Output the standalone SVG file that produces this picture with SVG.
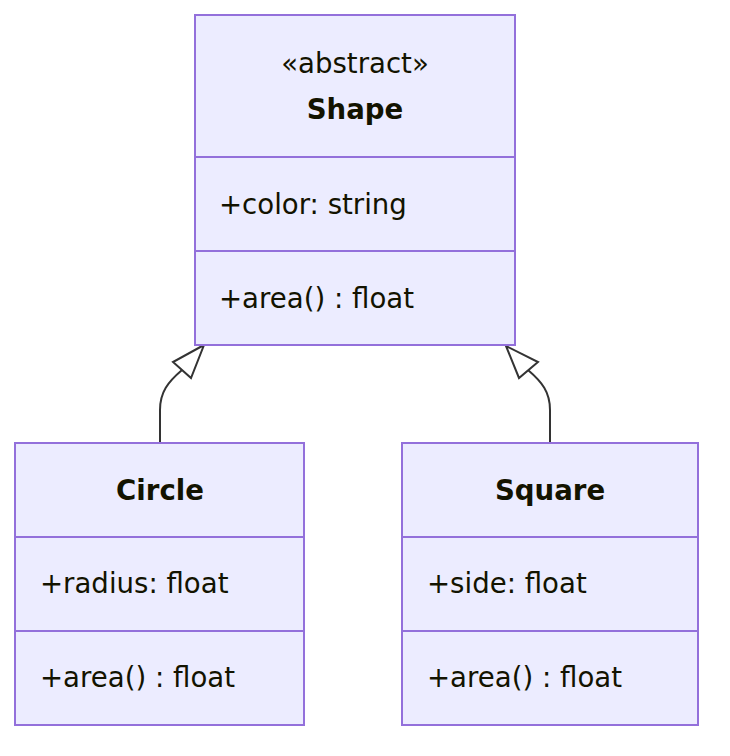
<svg xmlns="http://www.w3.org/2000/svg" width="730" height="756" viewBox="0 0 730 756">
<style>
.box{fill:#ECECFF;stroke:#9370DB;stroke-width:2}
.div{stroke:#9370DB;stroke-width:2}
text{font-family:"DejaVu Sans","Liberation Sans",sans-serif;font-size:27.6px;fill:#131300}
.t{font-weight:bold;text-anchor:middle}
.s{text-anchor:middle}
.edge{fill:none;stroke:#333333;stroke-width:2}
.head{fill:#ffffff;stroke:#333333;stroke-width:2;stroke-linejoin:miter}
</style>
<rect width="730" height="756" fill="#ffffff"/>
<g id="connectors">
<path class="edge" d="M160,443 L160,410 C160,392 168,382 182,370"/>
<polygon class="head" points="204,345 173,362 191,378"/>
<path class="edge" d="M550,443 L550,410 C550,392 542,382 528,370"/>
<polygon class="head" points="506,346 538,362 519,378"/>
</g>
<g id="Shape">
<rect class="box" x="195" y="15" width="320" height="330"/>
<line class="div" x1="195" y1="157" x2="515" y2="157"/>
<line class="div" x1="195" y1="251" x2="515" y2="251"/>
<text class="s" x="355" y="73">«abstract»</text>
<text class="t" x="355" y="119">Shape</text>
<text x="219" y="214">+color: string</text>
<text x="219" y="308">+area() : float</text>
</g>
<g id="Circle">
<rect class="box" x="15" y="443" width="289" height="282"/>
<line class="div" x1="15" y1="537" x2="304" y2="537"/>
<line class="div" x1="15" y1="631" x2="304" y2="631"/>
<text class="t" x="160" y="500">Circle</text>
<text x="40" y="593">+radius: float</text>
<text x="40" y="687">+area() : float</text>
</g>
<g id="Square">
<rect class="box" x="402" y="443" width="296" height="282"/>
<line class="div" x1="402" y1="537" x2="698" y2="537"/>
<line class="div" x1="402" y1="631" x2="698" y2="631"/>
<text class="t" x="550" y="500">Square</text>
<text x="427" y="593">+side: float</text>
<text x="427" y="687">+area() : float</text>
</g>
</svg>
